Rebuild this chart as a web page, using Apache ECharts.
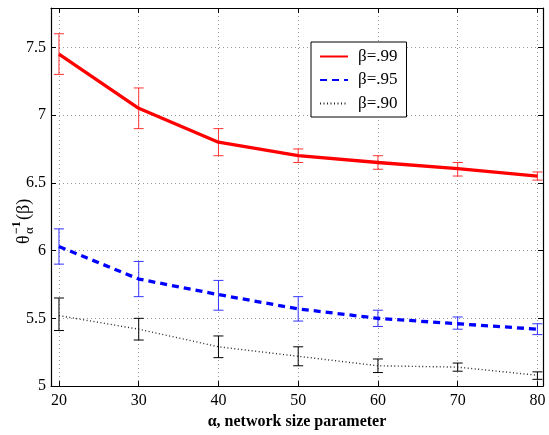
<!DOCTYPE html>
<html>
<head>
<meta charset="utf-8">
<script src="https://cdn.jsdelivr.net/npm/echarts@6/dist/echarts.min.js"></script>
<style>
html,body{margin:0;padding:0;background:#fff;}
#chart{width:549px;height:435px;}
</style>
</head>
<body>
<div id="chart"></div>
<script>
// alpha values (network size parameter)
var alphaValues=[20,30,40,50,60,70,80];
var xTicks=[20,30,40,50,60,70,80];
var yTicks=[5,5.5,6,6.5,7,7.5];

// beta = .99
var mean99=[7.45,7.05,6.80,6.70,6.65,6.605,6.55];
var lo99=[7.30,6.90,6.70,6.65,6.60,6.55,6.52];
var hi99=[7.60,7.20,6.90,6.75,6.70,6.65,6.58];
// beta = .95
var mean95=[6.03,5.79,5.675,5.57,5.50,5.46,5.42];
var lo95=[5.90,5.66,5.56,5.48,5.44,5.42,5.38];
var hi95=[6.16,5.92,5.78,5.66,5.56,5.51,5.46];
// beta = .90
var mean90=[5.52,5.42,5.29,5.22,5.15,5.14,5.08];
var lo90=[5.41,5.34,5.21,5.15,5.10,5.11,5.05];
var hi90=[5.65,5.50,5.37,5.29,5.20,5.17,5.105];

var serif='"Liberation Serif","DejaVu Serif",serif';

function pairs(ys){
	var out=[];
	for(var i=0;i<alphaValues.length;i++){out.push([alphaValues[i],ys[i]]);}
	return out;
}
function bars(lo,hi){
	var out=[];
	for(var i=0;i<alphaValues.length;i++){out.push([alphaValues[i],lo[i],hi[i]]);}
	return out;
}
function errorSeries(data,color){
	return {
		type:'custom',
		data:data,
		z:3,
		silent:true,
		renderItem:function(params,api){
			var x=api.value(0);
			var pLo=api.coord([x,api.value(1)]);
			var pHi=api.coord([x,api.value(2)]);
			var w=5;
			var st={stroke:color,lineWidth:1};
			return {type:'group',children:[
				{type:'line',shape:{x1:pLo[0],y1:pLo[1],x2:pHi[0],y2:pHi[1]},style:st},
				{type:'line',shape:{x1:pLo[0]-w,y1:pLo[1],x2:pLo[0]+w,y2:pLo[1]},style:st},
				{type:'line',shape:{x1:pHi[0]-w,y1:pHi[1],x2:pHi[0]+w,y2:pHi[1]},style:st}
			]};
		}
	};
}

var chart=echarts.init(document.getElementById('chart'));
var option={
	animation:false,
	backgroundColor:'#fff',
	grid:{left:51,top:8,right:6,bottom:38},
	legend:{
		orient:'vertical',
		left:311,top:42,
		data:['β=.99','β=.95','β=.90'],
		backgroundColor:'#fff',
		borderColor:'#000',borderWidth:1,borderRadius:0,
		padding:[6,9,5,8],
		itemWidth:28,itemHeight:16,itemGap:6.5,
		itemStyle:{opacity:0},
		textStyle:{fontFamily:serif,fontSize:17,color:'#000',padding:[0,0,0,5]}
	},
	xAxis:[{
		type:'value',min:19,max:80.7,
		name:'α, network size parameter',nameLocation:'middle',nameGap:20,
		nameTextStyle:{fontFamily:serif,fontSize:16,fontWeight:'bold',color:'#000'},
		axisLine:{onZero:false,lineStyle:{color:'#000',width:1.2}},
		axisTick:{inside:true,length:5,customValues:xTicks,lineStyle:{color:'#000'}},
		axisLabel:{customValues:xTicks,fontFamily:serif,fontSize:16,color:'#000',margin:7},
		splitLine:{show:true,lineStyle:{color:'#999',type:[1,3],width:1}}
	},{
		type:'value',min:19,max:80.7,position:'top',
		axisLine:{onZero:false,lineStyle:{color:'#000',width:1.2}},
		axisTick:{inside:true,length:5,customValues:xTicks,lineStyle:{color:'#000'}},
		axisLabel:{show:false},splitLine:{show:false}
	}],
	yAxis:[{
		type:'value',min:5,max:7.79,
		axisLine:{onZero:false,lineStyle:{color:'#000',width:1.2}},
		axisTick:{inside:true,length:5,customValues:yTicks,lineStyle:{color:'#000'}},
		axisLabel:{customValues:yTicks,fontFamily:serif,fontSize:16,color:'#000',margin:5},
		splitLine:{show:true,lineStyle:{color:'#999',type:[1,3],width:1}}
	},{
		type:'value',min:5,max:7.79,position:'right',
		axisLine:{onZero:false,lineStyle:{color:'#000',width:1.2}},
		axisTick:{inside:true,length:5,customValues:yTicks,lineStyle:{color:'#000'}},
		axisLabel:{show:false},splitLine:{show:false}
	}],
	graphic:[{
		type:'group',
		x:24,y:244,rotation:Math.PI/2,
		children:[
			{type:'text',x:0,y:0,style:{text:'θ',font:'18px '+serif,fill:'#000',verticalAlign:'middle'}},
			{type:'text',x:10,y:-7,style:{text:'−1',font:'bold 12px '+serif,fill:'#000',verticalAlign:'middle'}},
			{type:'text',x:10,y:6,style:{text:'α',font:'13px '+serif,fill:'#000',verticalAlign:'middle'}},
			{type:'text',x:24,y:0,style:{text:'(β)',font:'18px '+serif,fill:'#000',verticalAlign:'middle'}}
		]
	}],
	series:[
		{name:'β=.99',type:'line',data:pairs(mean99),symbol:'none',z:4,
			lineStyle:{color:'#ff0000',width:3.3},itemStyle:{color:'#ff0000'}},
		{name:'β=.95',type:'line',data:pairs(mean95),symbol:'none',z:4,
			lineStyle:{color:'#0000ff',width:3.3,type:[7,5]},itemStyle:{color:'#0000ff'}},
		{name:'β=.90',type:'line',data:pairs(mean90),symbol:'none',z:4,
			lineStyle:{color:'#222',width:1.4,type:[1,2.5]},itemStyle:{color:'#222'}},
		errorSeries(bars(lo99,hi99),'#ff3333'),
		errorSeries(bars(lo95,hi95),'#3333ff'),
		errorSeries(bars(lo90,hi90),'#000000')
	]
};
chart.setOption(option);
</script>
</body>
</html>
